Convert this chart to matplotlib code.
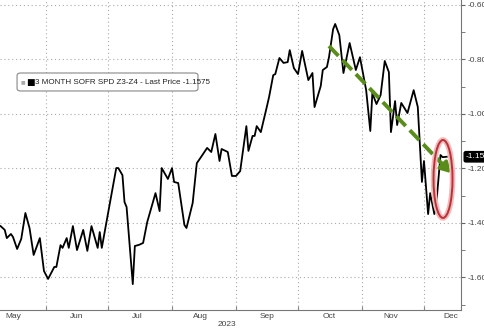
import numpy as np
import pandas as pd
import matplotlib
matplotlib.use("Agg")
import matplotlib.pyplot as plt
import matplotlib.dates as mdates
from matplotlib.patches import Ellipse, FancyBboxPatch

plt.rcParams["font.family"] = ["Liberation Sans", "DejaVu Sans"]

# 3 month SOFR Z3-Z4 spread
dates = ["2023-05-10", "2023-05-12", "2023-05-13", "2023-05-15", "2023-05-16", "2023-05-18",
         "2023-05-20", "2023-05-22", "2023-05-24", "2023-05-26", "2023-05-29", "2023-05-31",
         "2023-06-02", "2023-06-05", "2023-06-06", "2023-06-08", "2023-06-09", "2023-06-11",
         "2023-06-12", "2023-06-14", "2023-06-16", "2023-06-19", "2023-06-21", "2023-06-23",
         "2023-06-26", "2023-06-27", "2023-06-28", "2023-07-02", "2023-07-05", "2023-07-06",
         "2023-07-08", "2023-07-09", "2023-07-10", "2023-07-13", "2023-07-14", "2023-07-16",
         "2023-07-18", "2023-07-20", "2023-07-24", "2023-07-26", "2023-07-27", "2023-07-30",
         "2023-08-01", "2023-08-02", "2023-08-04", "2023-08-07", "2023-08-08", "2023-08-11",
         "2023-08-13", "2023-08-15", "2023-08-18", "2023-08-20", "2023-08-22", "2023-08-24",
         "2023-08-25", "2023-08-28", "2023-08-30", "2023-09-01", "2023-09-03", "2023-09-06",
         "2023-09-07", "2023-09-09", "2023-09-10", "2023-09-11", "2023-09-13", "2023-09-16",
         "2023-09-17", "2023-09-19", "2023-09-20", "2023-09-22", "2023-09-24", "2023-09-26",
         "2023-09-27", "2023-09-29", "2023-10-01", "2023-10-03", "2023-10-06", "2023-10-08",
         "2023-10-09", "2023-10-12", "2023-10-13", "2023-10-15", "2023-10-16", "2023-10-18",
         "2023-10-19", "2023-10-21", "2023-10-23", "2023-10-26", "2023-10-29", "2023-10-31",
         "2023-11-03", "2023-11-05", "2023-11-06", "2023-11-08", "2023-11-10", "2023-11-12",
         "2023-11-14", "2023-11-15", "2023-11-17", "2023-11-18", "2023-11-20", "2023-11-23",
         "2023-11-26", "2023-11-28", "2023-11-30", "2023-12-01", "2023-12-03", "2023-12-04",
         "2023-12-06", "2023-12-07", "2023-12-09", "2023-12-10", "2023-12-12"]
spread = [-1.412, -1.426, -1.456, -1.441, -1.452, -1.496,
          -1.459, -1.364, -1.419, -1.518, -1.456, -1.577,
          -1.606, -1.562, -1.562, -1.482, -1.492, -1.456,
          -1.492, -1.412, -1.500, -1.426, -1.503, -1.412,
          -1.492, -1.434, -1.492, -1.324, -1.199, -1.199,
          -1.225, -1.324, -1.342, -1.625, -1.485, -1.481,
          -1.474, -1.397, -1.291, -1.357, -1.199, -1.239,
          -1.199, -1.250, -1.254, -1.408, -1.419, -1.327,
          -1.181, -1.159, -1.125, -1.140, -1.074, -1.173,
          -1.129, -1.140, -1.228, -1.228, -1.210, -1.045,
          -1.136, -1.081, -1.081, -1.045, -1.067, -0.971,
          -0.938, -0.858, -0.854, -0.795, -0.813, -0.810,
          -0.766, -0.832, -0.854, -0.769, -0.876, -0.850,
          -0.975, -0.898, -0.839, -0.828, -0.792, -0.689,
          -0.670, -0.711, -0.850, -0.740, -0.839, -0.792,
          -0.913, -1.063, -0.924, -0.964, -0.931, -0.806,
          -0.847, -1.067, -0.953, -1.041, -0.960, -0.997,
          -0.913, -0.975, -1.250, -1.173, -1.368, -1.291,
          -1.368, -1.327, -1.151, -1.159, -1.1575]

month_labels = ["May", "Jun", "Jul", "Aug", "Sep", "Oct", "Nov", "Dec"]
label_dates = ["2023-05-16", "2023-06-16", "2023-07-15", "2023-08-15",
               "2023-09-16", "2023-10-16", "2023-11-15", "2023-12-14"]
month_starts = ["2023-06-01", "2023-07-01", "2023-08-01", "2023-09-01",
                "2023-10-01", "2023-11-01", "2023-12-01"]
y_ticks = [-0.6, -0.8, -1.0, -1.2, -1.4, -1.6]
last_price = -1.1575
legend_label = "3 MONTH SOFR SPD Z3-Z4 - Last Price %.4f" % last_price

# trend arrow and highlight ellipse
trend_start = ("2023-10-16", -0.751)
trend_end = ("2023-12-15", -1.225)

x = pd.to_datetime(dates)

fig = plt.figure(figsize=(4.85, 3.29), dpi=100)
ax = fig.add_axes([0.0, 0.0578, 0.9505, 0.9422])

ax.plot(x, spread, color="black", lw=1.3, zorder=3)

ax.set_xlim(pd.Timestamp("2023-05-09 17:00"), pd.Timestamp("2023-12-18 22:00"))
ax.set_ylim(-1.720, -0.582)

# vertical grid at month starts, labels mid-month
ax.set_xticks(pd.to_datetime(month_starts))
ax.set_xticks(pd.to_datetime(label_dates), minor=True)
ax.set_xticklabels([], minor=False)
ax.set_xticklabels(month_labels, minor=True)
ax.tick_params(axis="x", which="major", length=3, color="#888888", direction="in")
ax.tick_params(axis="x", which="minor", length=0, labelsize=6, labelcolor="#444444", pad=2.5)
ax.grid(axis="x", which="major", ls=(0, (1, 2.5)), color="#aaaaaa", lw=0.8)

ax.yaxis.tick_right()
ax.set_yticks(y_ticks)
ax.set_yticklabels(["%.3f" % v for v in y_ticks])
ax.set_yticks(np.arange(-1.7, -0.6, 0.2), minor=True)
ax.tick_params(axis="y", which="both", length=3, color="#666666", labelsize=6,
               labelcolor="#444444", pad=2)
ax.grid(axis="y", which="major", ls=(0, (1, 2.5)), color="#aaaaaa", lw=0.8)

for s in ["left", "top"]:
    ax.spines[s].set_visible(False)
for s in ["right", "bottom"]:
    ax.spines[s].set_color("#777777")
    ax.spines[s].set_linewidth(0.8)

fig.text(227 / 485, 1 - 324 / 329, "2023", ha="center", va="center", fontsize=6, color="#444444")

# last price tag
ax.annotate("%.4f" % last_price, xy=(1.0, last_price), xycoords=("axes fraction", "data"),
            xytext=(3.5, 0), textcoords="offset points", ha="left", va="center",
            fontsize=6, color="white", annotation_clip=False,
            bbox=dict(boxstyle="round,pad=0.2", fc="black", ec="black"))

# legend box
ax.add_patch(FancyBboxPatch((0.037, 0.7065), 0.3925, 0.058, transform=ax.transAxes,
                            boxstyle="round,pad=0,rounding_size=0.008",
                            fc="white", ec="#888888", lw=0.8, zorder=7))
ax.text(0.045, 0.735, "\u25a0", transform=ax.transAxes, fontsize=3.5, color="#aaaaaa",
        va="center", family="DejaVu Sans", zorder=8)
ax.text(0.056, 0.735, "\u25a0", transform=ax.transAxes, fontsize=6.5, color="black",
        va="center", family="DejaVu Sans", zorder=8)
ax.text(0.077, 0.735, legend_label, transform=ax.transAxes, fontsize=5.8,
        color="#222222", va="center", zorder=8)

# green dashed trend arrow
green = "#5a8c1c"
x0, y0 = mdates.date2num(pd.Timestamp(trend_start[0])), trend_start[1]
x1, y1 = mdates.date2num(pd.Timestamp(trend_end[0])), trend_end[1]
xm, ym = x0 + 0.93 * (x1 - x0), y0 + 0.93 * (y1 - y0)
ax.plot([x0, xm], [y0, ym], color=green, lw=2.8, ls=(0, (3.5, 1.5)), zorder=4)
ax.annotate("", xy=(x1, y1), xytext=(xm, ym),
            arrowprops=dict(arrowstyle="-|>,head_length=0.6,head_width=0.35",
                            color=green, lw=2.6), zorder=4)

# red ellipse highlight
ec_x = mdates.date2num(pd.Timestamp("2023-12-10 05:00"))
ax.add_patch(Ellipse((ec_x, -1.239), 9.2, 0.286, fill=False, ec="#f4b9b9", lw=4, zorder=5))
ax.add_patch(Ellipse((ec_x, -1.239), 9.2, 0.286, fill=False, ec="#b8323a", lw=1.4, zorder=6))

fig.savefig("out.png", dpi=100)
